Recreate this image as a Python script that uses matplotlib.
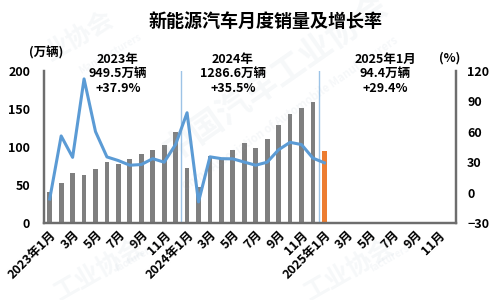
import matplotlib
matplotlib.use("Agg")
import matplotlib.pyplot as plt
import numpy as np

plt.rcParams["font.family"] = ["Noto Sans CJK SC", "DejaVu Sans"]
plt.rcParams["font.weight"] = "bold"

# 月度销量（万辆）与同比增长率（%），2023年1月起
months = [f"{y}-{m:02d}" for y in (2023, 2024, 2025) for m in range(1, 13)]
sales_2023 = [40.8, 52.5, 65.3, 63.6, 71.7, 80.6, 78.0, 84.6, 90.4, 95.6, 102.6, 119.1]
sales_2024 = [72.9, 47.7, 88.3, 85.0, 95.5, 104.9, 99.1, 110.0, 128.7, 143.2, 151.2, 159.6]
sales_2025 = [94.4]
growth = [-6.3, 55.9, 34.8, 112.2, 60.2, 35.2, 31.6, 27.0, 27.7, 33.5, 30.0, 47.5,
          78.8, -9.2, 35.3, 33.5, 33.3, 30.1, 27.0, 30.0, 42.3, 49.6, 47.4, 34.0,
          29.4]

tick_labels = []
for m in months:
    y, mo = m.split("-")
    mo = int(mo)
    if mo % 2 == 0:
        tick_labels.append("")
    elif mo == 1:
        tick_labels.append(f"{y}年1月")
    else:
        tick_labels.append(f"{mo}月")

GRAY = "#7f7f7f"
ORANGE = "#ED7D31"
BLUE = "#5B9BD5"
SPINE = "#6d6d6d"

fig = plt.figure(figsize=(5, 3), dpi=100)
ax = fig.add_axes([0.088, 0.2567, 0.824, 0.5066])
ax2 = ax.twinx()

x = np.arange(len(months))
gray_sales = sales_2023 + sales_2024
ax.bar(x[:len(gray_sales)], gray_sales, width=0.42, color=GRAY, zorder=2)
ax.bar(x[len(gray_sales):len(gray_sales) + len(sales_2025)], sales_2025,
       width=0.42, color=ORANGE, zorder=2)

for xv in (11.5, 23.5):
    ax.axvline(xv, ymin=0, ymax=1, color="#9DC3E6", lw=1, zorder=1)

ax2.plot(x[:len(growth)], growth, color=BLUE, lw=2.2, solid_joinstyle="round")

ax.set_xlim(-0.5, len(months) - 0.5)
ax.set_ylim(0, 200)
ax.set_yticks([0, 50, 100, 150, 200])
ax2.set_ylim(-30, 120)
ax2.set_yticks([-30, 0, 30, 60, 90, 120])

ax.set_xticks(x)
ax.set_xticklabels(tick_labels, rotation=45, ha="right", rotation_mode="anchor")

for a in (ax, ax2):
    a.tick_params(length=0, labelsize=9, labelcolor="black")
    a.spines["top"].set_visible(False)
    for s in ("left", "right", "bottom"):
        a.spines[s].set_color(SPINE)
        a.spines[s].set_linewidth(1.6)
ax.tick_params(axis="y", pad=10)
ax2.tick_params(axis="y", pad=8)
ax.tick_params(axis="x", pad=4)
for lab in ax.get_xticklabels() + ax.get_yticklabels() + ax2.get_yticklabels():
    lab.set_fontweight("bold")

# 水印
wm = dict(color="#9aaec2", alpha=0.09, fontweight="bold", ha="center", va="center")
fig.text(0.55, 0.74, "中国汽车工业协会", fontsize=24, rotation=35, **wm)
fig.text(0.58, 0.62, "China Association of Automobile Manufacturers", fontsize=8,
         rotation=35, **wm)
fig.text(0.16, 0.88, "业协会", fontsize=18, rotation=30, **wm)
fig.text(0.22, 0.82, "Manufacturers", fontsize=7, rotation=30, **wm)
fig.text(0.20, 0.10, "工业协会", fontsize=18, rotation=30, **wm)
fig.text(0.27, 0.14, "facturers", fontsize=7, rotation=30, **wm)
fig.text(0.70, 0.10, "工业协会", fontsize=18, rotation=30, **wm)
fig.text(0.78, 0.14, "facturers", fontsize=7, rotation=30, **wm)

fig.text(0.532, 0.927, "新能源汽车月度销量及增长率", fontsize=13, fontweight="bold",
         ha="center", va="center")
fig.text(0.092, 0.823, "(万辆)", fontsize=9, fontweight="bold", ha="center", va="center")
fig.text(0.90, 0.807, "(%)", fontsize=9, fontweight="bold", ha="center", va="center")

notes = [
    (0.236, "2023年\n949.5万辆\n+37.9%"),
    (0.466, "2024年\n1286.6万辆\n+35.5%"),
    (0.770, "2025年1月\n94.4万辆\n+29.4%"),
]
for xf, s in notes:
    fig.text(xf, 0.755, s, fontsize=9, fontweight="bold", ha="center", va="center",
             linespacing=1.15)

fig.savefig("out.png", dpi=100)
